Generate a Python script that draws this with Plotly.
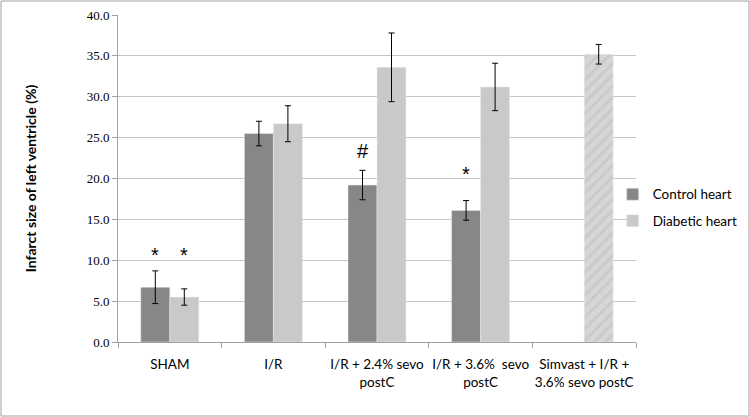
import plotly.graph_objects as go

categories = ["SHAM", "I/R", "I/R + 2.4% sevo<br>postC", "I/R + 3.6%  sevo<br>postC", "Simvast + I/R +<br>3.6% sevo postC"]
control = [6.7, 25.5, 19.2, 16.1, None]
control_err = [2.0, 1.5, 1.8, 1.2, None]
diabetic = [5.5, 26.7, 33.6, 31.2, None]
diabetic_err = [1.0, 2.2, 4.2, 2.9, None]
simvast = [None, None, None, None, 35.2]
simvast_err = [None, None, None, None, 1.2]
marks = [("*", 0, -0.5, 9.0), ("*", 0, 0.5, 9.0), ("#", 2, -0.5, 21.8), ("*", 3, -0.5, 19.0)]
yticks = [0, 5, 10, 15, 20, 25, 30, 35, 40]

L, R, T, B = 118, 114, 15, 75
PW, PH = 750 - L - R, 417 - T - B

fig = go.Figure()
eb = dict(type="data", thickness=1, width=3, color="black")
fig.add_trace(go.Bar(name="Control heart", x=categories, y=control, marker_color="#878787",
                     legendgroup="a", error_y=dict(array=control_err, **eb)))
fig.add_trace(go.Bar(name="Diabetic heart", x=categories, y=diabetic, marker_color="#c9c9c9",
                     legendgroup="b", error_y=dict(array=diabetic_err, **eb)))
fig.add_trace(go.Bar(name="Simvast", x=categories, y=simvast, showlegend=False,
                     marker=dict(color="#d6d6d6", pattern=dict(shape="/", fgcolor="#bcbcbc", size=8, solidity=0.35)),
                     error_y=dict(array=simvast_err, **eb), offset=0.0, width=0.28))

annots = []
for txt, ci, side, yv in marks:
    annots.append(dict(x=categories[ci], y=yv, text=txt, showarrow=False, xshift=side * 29,
                       font=dict(size=20, family="Liberation Sans"), yanchor="bottom"))

fig.update_layout(
    barmode="group", bargap=0.44, bargroupgap=0,
    width=750, height=417, plot_bgcolor="white", paper_bgcolor="white",
    margin=dict(l=L, r=R, t=T, b=B, autoexpand=False),
    font=dict(family="Lato", size=13, color="black"),
    legend=dict(x=0.955, y=0.41, xanchor="left", yanchor="middle", font=dict(size=13.5, family="Lato"),
                tracegroupgap=6, itemwidth=30, traceorder="grouped", bgcolor="rgba(0,0,0,0)"),
    xaxis=dict(showline=True, linecolor="#a0a0a0", ticks="outside", tickson="boundaries",
               tickcolor="#a0a0a0", ticklen=5, ticklabelstandoff=10, tickangle=0,
               tickfont=dict(family="Lato", size=13.5)),
    yaxis=dict(range=[0, 40], tickvals=yticks, tickformat=".1f", showgrid=True, gridcolor="#c6c6c6",
               showline=True, linecolor="#a0a0a0", ticks="outside", tickcolor="#a0a0a0", ticklen=5,
               tickfont=dict(family="Liberation Serif", size=13),
               title=dict(text="<b>Infarct size of left ventricle (%)</b>", font=dict(family="Lato", size=14),
                          standoff=46)),
    shapes=[dict(type="rect", xref="paper", yref="paper", x0=-(L - 1) / PW, x1=(749 - L) / PW,
                 y0=-(B - 1) / PH, y1=1 + (T - 1) / PH, line=dict(color="#a0a0a0", width=1))],
    annotations=annots,
)
fig.write_html("out.html", config={"displayModeBar": False},
               post_script="document.body.style.margin='0px';document.body.style.overflow='hidden';")
